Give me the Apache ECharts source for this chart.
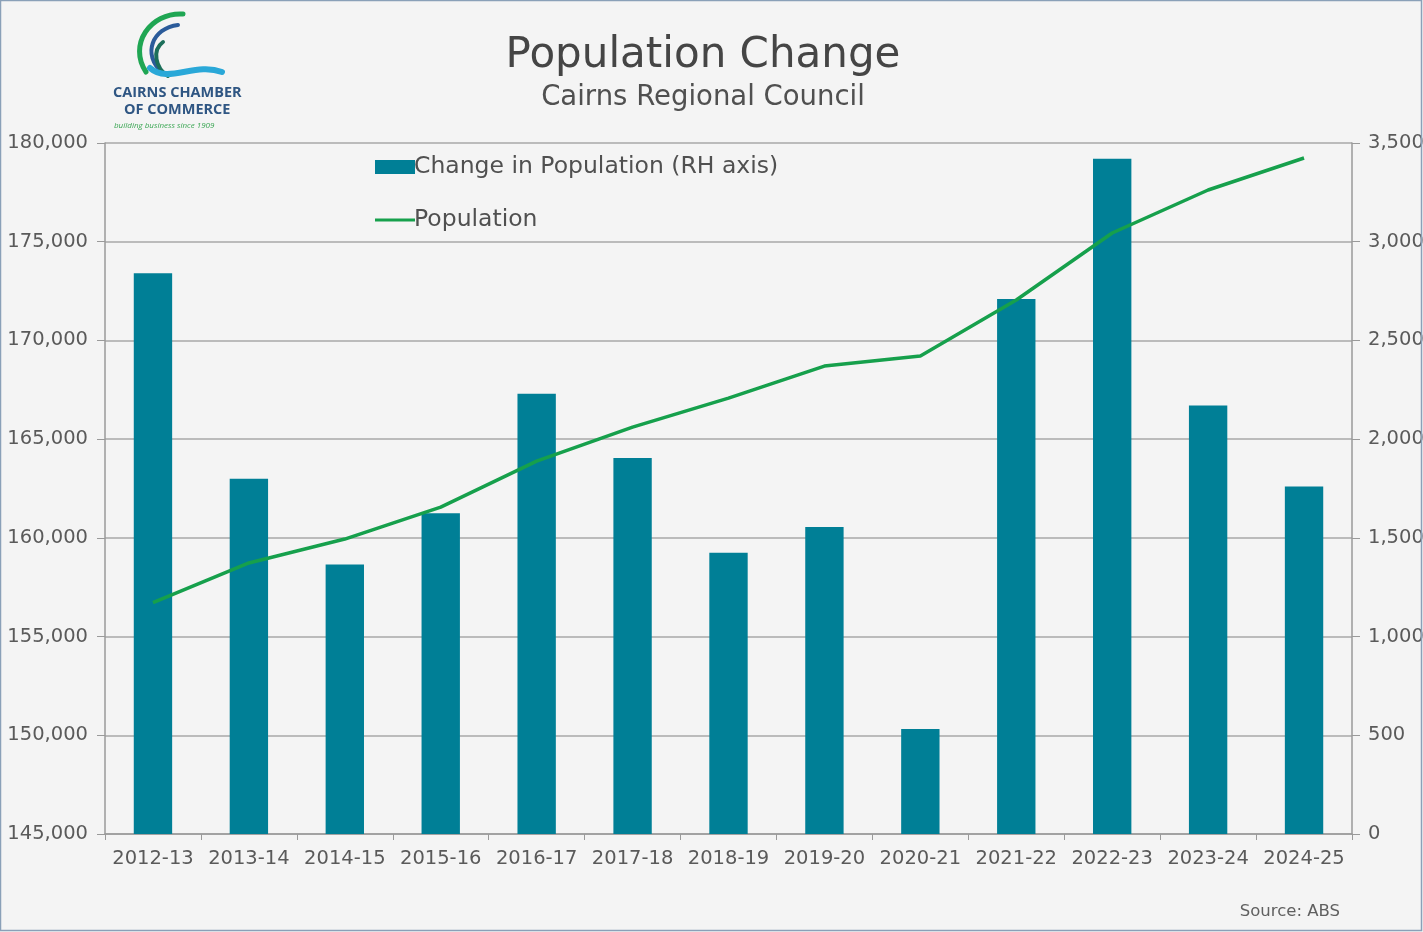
<!DOCTYPE html>
<html>
<head>
<meta charset="utf-8">
<script src="https://cdn.jsdelivr.net/npm/echarts@6/dist/echarts.min.js"></script>
<style>
  html, body { margin: 0; padding: 0; background: #f4f4f4; }
  #chart { width: 1423px; height: 932px; }
</style>
</head>
<body>
<div id="chart"></div>
<script>
// Financial years (categories)
const years = ['2012-13', '2013-14', '2014-15', '2015-16', '2016-17', '2017-18', '2018-19',
               '2019-20', '2020-21', '2021-22', '2022-23', '2023-24', '2024-25'];
// Annual change in population (right-hand axis)
const populationChange = [2840, 1800, 1365, 1625, 2230, 1905, 1425, 1555, 532, 2710, 3420, 2170, 1760];
// Estimated resident population (left-hand axis)
const population = [156720, 158730, 159940, 161560, 163890, 165610, 167080, 168700, 169210, 172050, 175440, 177620, 179240];

const leftTicks = { min: 145000, max: 180000, interval: 5000 };
const rightTicks = { min: 0, max: 3500, interval: 500 };

const FONT = '"DejaVu Sans", sans-serif';
const TEXT = '#5a5a5a';
const AXIS = '#9a9a9a';

const chart = echarts.init(document.getElementById('chart'), null, { renderer: 'canvas' });

const fmt = v => v.toLocaleString('en-US');

chart.setOption({
  backgroundColor: '#f4f4f4',
  animation: false,
  textStyle: { fontFamily: FONT },
  title: [
    {
      text: 'Population Change',
      left: 698, top: 30, textAlign: 'center',
      textStyle: { fontSize: 42, fontWeight: 'normal', color: '#454545', fontFamily: FONT }
    },
    {
      text: 'Cairns Regional Council',
      left: 698, top: 79, textAlign: 'center',
      textStyle: { fontSize: 27.5, fontWeight: 'normal', color: '#505050', fontFamily: FONT }
    },
    {
      text: 'Source: ABS',
      right: 78, top: 898,
      textStyle: { fontSize: 16.5, fontWeight: 'normal', color: '#606060', fontFamily: FONT }
    }
  ],
  legend: {
    left: 370, top: 150,
    orient: 'vertical',
    itemGap: 29,
    itemWidth: 40, itemHeight: 14,
    textStyle: { fontSize: 23.5, color: '#505050', fontFamily: FONT, padding: [0, 0, 0, -6] },
    data: [
      { name: 'Change in Population (RH axis)', icon: 'rect' },
      { name: 'Population', icon: 'path://M0,6 L40,6 L40,9 L0,9 Z', itemStyle: { color: '#16a04c' } }
    ]
  },
  grid: { left: 105, right: 71, top: 143, bottom: 98, containLabel: false, outerBoundsMode: 'none' },
  xAxis: {
    type: 'category',
    data: years,
    axisLine: { lineStyle: { color: AXIS, width: 1.5 } },
    axisTick: { show: true, alignWithLabel: false, interval: 0, length: 6, lineStyle: { color: AXIS } },
    axisLabel: { interval: 0, fontSize: 19.5, color: TEXT, margin: 15, fontFamily: FONT }
  },
  yAxis: [
    {
      type: 'value',
      position: 'left',
      min: leftTicks.min, max: leftTicks.max, interval: leftTicks.interval,
      axisLine: { show: true, lineStyle: { color: AXIS, width: 1.5 } },
      axisTick: { show: true, length: 8, lineStyle: { color: AXIS } },
      splitLine: { show: true, lineStyle: { color: '#a8a8a8', width: 1.5 } },
      axisLabel: { fontSize: 19.5, color: TEXT, margin: 17, formatter: fmt, fontFamily: FONT }
    },
    {
      type: 'value',
      position: 'right',
      min: rightTicks.min, max: rightTicks.max, interval: rightTicks.interval,
      axisLine: { show: true, lineStyle: { color: AXIS, width: 1.5 } },
      axisTick: { show: true, length: 8, lineStyle: { color: AXIS } },
      splitLine: { show: false },
      axisLabel: { fontSize: 19.5, color: TEXT, margin: 16, formatter: fmt, fontFamily: FONT }
    }
  ],
  series: [
    {
      name: 'Change in Population (RH axis)',
      type: 'bar',
      yAxisIndex: 1,
      data: populationChange,
      barWidth: '40%',
      itemStyle: { color: '#007f96' }
    },
    {
      name: 'Population',
      type: 'line',
      yAxisIndex: 0,
      data: population,
      showSymbol: false,
      symbol: 'none',
      lineStyle: { color: '#16a04c', width: 3.5 },
      itemStyle: { color: '#16a04c' }
    }
  ],
  graphic: [
    // frame
    {
      type: 'rect', silent: true, z: 100,
      shape: { x: 0.5, y: 0.5, width: 1421, height: 930 },
      style: { fill: 'none', stroke: '#8aa0b8', lineWidth: 1.5 }
    },
    // logo swooshes
    {
      type: 'bezierCurve', silent: true,
      shape: { x1: 183, y1: 14, x2: 146, y2: 72, cpx1: 150, cpy1: 12, cpx2: 128, cpy2: 45 },
      style: { stroke: '#1fa653', lineWidth: 5, fill: 'none', lineCap: 'round' }
    },
    {
      type: 'bezierCurve', silent: true,
      shape: { x1: 178, y1: 25, x2: 162, y2: 72, cpx1: 152, cpy1: 28, cpx2: 142, cpy2: 55 },
      style: { stroke: '#2b5b9a', lineWidth: 4, fill: 'none', lineCap: 'round' }
    },
    {
      type: 'bezierCurve', silent: true,
      shape: { x1: 163, y1: 42, x2: 168, y2: 76, cpx1: 152, cpy1: 50, cpx2: 155, cpy2: 68 },
      style: { stroke: '#1c6f5a', lineWidth: 4, fill: 'none', lineCap: 'round' }
    },
    {
      type: 'bezierCurve', silent: true,
      shape: { x1: 150, y1: 68, x2: 222, y2: 72, cpx1: 168, cpy1: 84, cpx2: 195, cpy2: 62 },
      style: { stroke: '#2aa8d8', lineWidth: 6, fill: 'none', lineCap: 'round' }
    },
    {
      type: 'text', silent: true, left: 113, top: 85,
      style: { text: 'CAIRNS CHAMBER', fontSize: 14.5, fontWeight: 'bold', fill: '#2f5683', fontFamily: '"Open Sans", sans-serif' }
    },
    {
      type: 'text', silent: true, left: 124, top: 102,
      style: { text: 'OF COMMERCE', fontSize: 14.5, fontWeight: 'bold', fill: '#2f5683', fontFamily: '"Open Sans", sans-serif' }
    },
    {
      type: 'text', silent: true, left: 114, top: 122,
      style: { text: 'building business since 1909', fontSize: 8, fontStyle: 'italic', fill: '#3aa653', fontFamily: '"Open Sans", sans-serif' }
    }
  ]
});
</script>
</body>
</html>
